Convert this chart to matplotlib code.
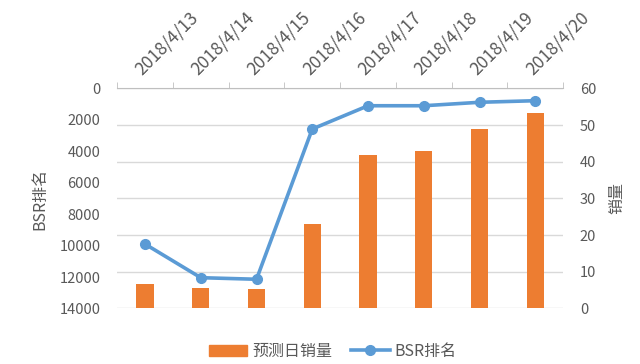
import numpy as np
import matplotlib
matplotlib.use("Agg")
import matplotlib.pyplot as plt
from matplotlib.patches import Patch
from matplotlib.lines import Line2D

plt.rcParams['font.family'] = ['Noto Sans CJK SC', 'DejaVu Sans']

dates = ['2018/4/13', '2018/4/14', '2018/4/15', '2018/4/16',
         '2018/4/17', '2018/4/18', '2018/4/19', '2018/4/20']
sales = [6.6, 5.5, 5.3, 23, 41.9, 42.9, 48.9, 53.4]
bsr_rank = [9900, 12040, 12140, 2580, 1100, 1100, 880, 780]

orange = '#ED7D31'
blue = '#5B9BD5'
txt = '#595959'
grid = '#D9D9D9'

fig = plt.figure(figsize=(6.4, 3.64), dpi=100)
ax = fig.add_axes([0.183, 0.1525, 0.697, 0.6045])
ax2 = ax.twinx()

x = np.arange(len(dates))

# bars on right axis, behind line
ax2.bar(x, sales, width=0.31, color=orange, zorder=2)
ax2.set_ylim(0, 60)
ax2.set_yticks(range(0, 61, 10))
ax2.yaxis.grid(True, color=grid, lw=1)
ax2.set_axisbelow(True)
ax2.set_ylabel('销量', color=txt, fontsize=11.5, labelpad=9)

# BSR line on left axis, reversed
ax.set_zorder(ax2.get_zorder() + 1)
ax.patch.set_visible(False)
ax.plot(x, bsr_rank, color=blue, lw=2.6, marker='o', ms=7, zorder=3)
ax.set_ylim(14000, 0)
ax.set_yticks(range(0, 14001, 2000))
ax.set_ylabel('BSR排名', color=txt, fontsize=11.5, labelpad=8)

ax.set_xlim(-0.5, len(dates) - 0.5)
ax.xaxis.tick_top()
ax.set_xticks(x)
ax.set_xticklabels(dates, rotation=45, ha='left', va='bottom',
                   rotation_mode='anchor', color=txt, fontsize=12.5)
ax.tick_params(axis='x', which='major', length=0, pad=7)
ax.set_xticks(np.arange(-0.5, len(dates)), minor=True)
ax.tick_params(axis='x', which='minor', length=4, color='#BFBFBF', top=True, bottom=False)

for a in (ax, ax2):
    for s in a.spines.values():
        s.set_visible(False)
    a.tick_params(axis='y', length=0, labelcolor=txt, labelsize=10.5)
ax.spines['top'].set_visible(True)
ax.spines['top'].set_color('#BFBFBF')
ax.tick_params(axis='y', pad=12)
ax2.tick_params(axis='y', pad=12)

handles = [Patch(color=orange), Line2D([], [], color=blue, lw=2.6, marker='o', ms=7)]
fig.legend(handles, ['预测日销量', 'BSR排名'], loc='center', bbox_to_anchor=(0.52, 0.035),
           ncol=2, frameon=False, fontsize=11.5, labelcolor=txt,
           handlelength=2.4, handletextpad=0.3, columnspacing=1.2)

fig.savefig('out.png', dpi=100)
